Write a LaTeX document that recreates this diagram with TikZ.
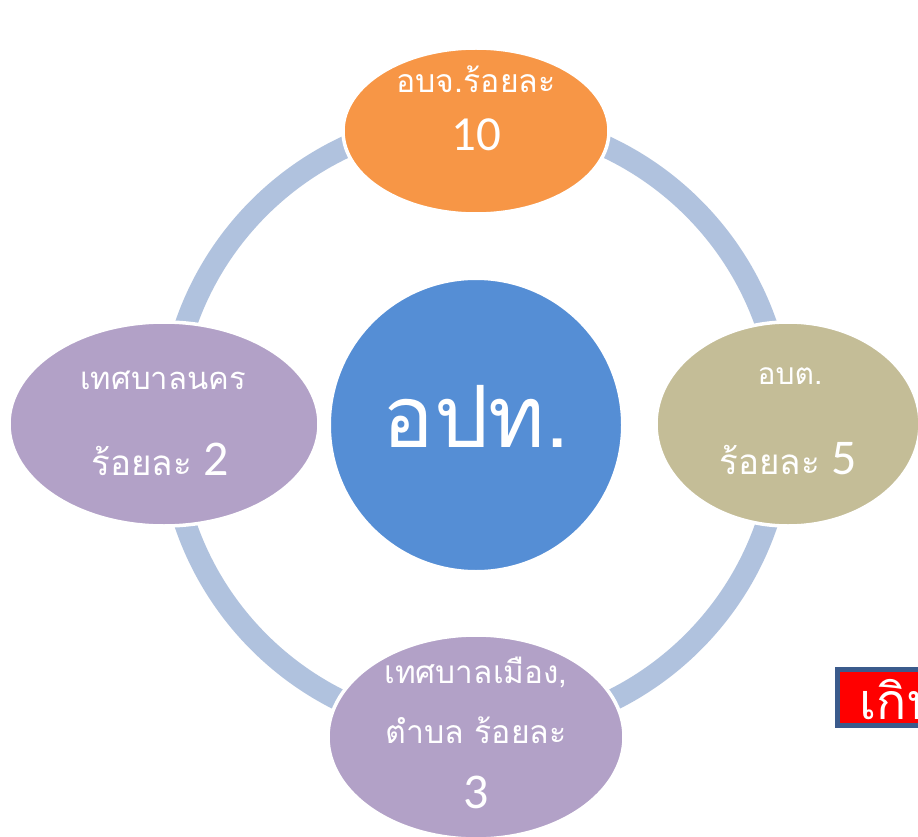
\documentclass[tikz,border=0pt]{standalone}
\usepackage{fontspec}
\setmainfont{Carlito}
\newfontfamily\thai[Script=Thai]{Loma}
\definecolor{ringblue}{HTML}{B0C2DE}
\definecolor{orangec}{HTML}{F79646}
\definecolor{khaki}{HTML}{C4BD97}
\definecolor{lilac}{HTML}{B2A1C7}
\definecolor{bluec}{HTML}{558ED5}
\definecolor{boxborder}{HTML}{3B5B8C}
\tikzset{
  blob/.style={ellipse, draw=white, line width=3.5pt, inner sep=0pt},
  lbl/.style={text=white, inner sep=0pt, anchor=center},
}
\usetikzlibrary{shapes.geometric}
\begin{document}
\begin{tikzpicture}[x=1pt,y=-1pt]
\useasboundingbox (0,0) rectangle (918,837);
\clip (0,0) rectangle (918,837);
\fill[white] (0,0) rectangle (918,837);
\coordinate (c) at (476,425);
\draw[ringblue, line width=22pt] (c) circle[radius=307pt];
\node[blob, fill=orangec, minimum width=266pt, minimum height=166pt] (top) at (476,131) {};
\node[blob, fill=khaki, minimum width=264pt, minimum height=204pt] (right) at (788,424) {};
\node[blob, fill=lilac, minimum width=310pt, minimum height=204pt] (left) at (164,424) {};
\node[blob, fill=lilac, minimum width=296pt, minimum height=204pt] (bottom) at (476,737) {};
\node[circle, fill=bluec, draw=white, line width=2pt, minimum size=292pt, inner sep=0pt] (mid) at (c) {};
\node[lbl, font=\thai\fontsize{86}{88}\selectfont] (midt) at (476,416) {อปท.};
\node[lbl, font=\thai\fontsize{32}{34}\selectfont] (t1) at (476,79) {อบจ.ร้อยละ};
\node[lbl, font=\fontsize{49}{51}\selectfont] (t2) at (476,135) {10};
\node[lbl, font=\thai\fontsize{30}{32}\selectfont] (r1) at (790,376) {อบต.};
\node[lbl, font=\fontsize{50}{52}\selectfont] (r2) at (788,459) {{\thai\fontsize{35}{37}\selectfont ร้อยละ} 5};
\node[lbl, font=\thai\fontsize{31}{33}\selectfont] (l1) at (163,380) {เทศบาลนคร};
\node[lbl, font=\fontsize{50}{52}\selectfont] (l2) at (160,459) {{\thai\fontsize{35}{37}\selectfont ร้อยละ} 2};
\node[lbl, font=\thai\fontsize{31.5}{33}\selectfont] (b1) at (476,672) {เทศบาลเมือง,};
\node[lbl, font=\thai\fontsize{32}{34}\selectfont] (b2) at (476,730) {ตำบล ร้อยละ};
\node[lbl, font=\fontsize{50}{52}\selectfont] (b3) at (476,792) {3};
\draw[boxborder, line width=5pt, fill=red] (837.5,669.5) rectangle (960,725);
\node[text=white, anchor=west, inner sep=0pt, font=\thai\fontsize{50}{52}\selectfont] (extra) at (859,700) {เกิน};
\end{tikzpicture}
\end{document}
